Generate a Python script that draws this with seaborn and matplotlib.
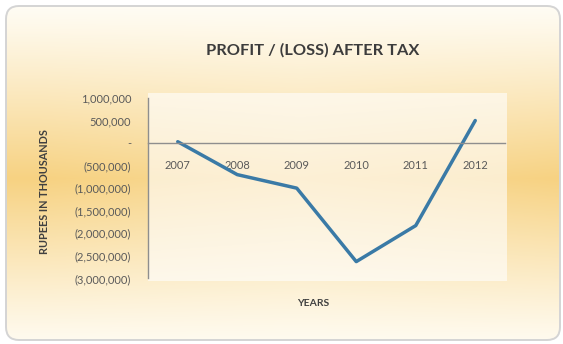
import numpy as np
import pandas as pd
import matplotlib
matplotlib.use("Agg")
import matplotlib.pyplot as plt
from matplotlib.patches import FancyBboxPatch, Rectangle
from matplotlib.ticker import FuncFormatter
import seaborn as sns

# Profit / (loss) after tax, rupees in thousands
years = ["2007", "2008", "2009", "2010", "2011", "2012"]
profit_after_tax = [30000, -700000, -1000000, -2630000, -1830000, 500000]
y_ticks = [-3000000, -2500000, -2000000, -1500000, -1000000, -500000, 0, 500000, 1000000]

title = "PROFIT / (LOSS) AFTER TAX"
y_label = "RUPEES IN THOUSANDS"
x_label = "YEARS"

df = pd.DataFrame({"year": years, "profit": profit_after_tax})

sns.set_style("white")
plt.rcParams["font.family"] = ["Lato", "DejaVu Sans"]

W, H = 563, 344
fig = plt.figure(figsize=(W / 100, H / 100), dpi=100)
fig.patch.set_facecolor("white")

# --- chart-area background: warm vertical gradient inside a rounded frame ---
bg = fig.add_axes([0, 0, 1, 1], zorder=-5)
bg.set_xlim(0, W)
bg.set_ylim(H, 0)
bg.axis("off")

yy, xx = np.mgrid[0:H, 0:W]
t = np.clip(1 - np.abs(yy - 178) / 170.0, 0, 1) ** 1.1
edge = 0.82 + 0.18 * np.clip(np.abs(xx - 300) / 260.0, 0, 1)
t = t * edge
light = np.array([255, 252, 243]) / 255.0
warm = np.array([247, 210, 130]) / 255.0
grad = light[None, None, :] * (1 - t[..., None]) + warm[None, None, :] * t[..., None]
img = bg.imshow(grad, extent=(0, W, H, 0), aspect="auto", zorder=0)

frame = FancyBboxPatch((6, 6), 554, 334, boxstyle="round,pad=0,rounding_size=13",
                       facecolor="none", edgecolor="#d4d4d4", linewidth=1.4, zorder=3)
bg.add_patch(frame)
img.set_clip_path(frame)

# lighter plot-area panel
bg.add_patch(Rectangle((148, 93), 359, 188, facecolor="white", alpha=0.6,
                       edgecolor="none", zorder=1))

# --- main plot ---
ax = fig.add_axes([148 / W, (H - 278.3) / H, 357 / W, 180.3 / H])
ax.set_facecolor("none")

sns.lineplot(data=df, x="year", y="profit", ax=ax, sort=False,
             color="#3a7aa6", linewidth=2.5, solid_joinstyle="round")

ax.set_xlim(-0.5, len(years) - 0.5)
ax.set_ylim(y_ticks[0], y_ticks[-1])
ax.set_yticks(y_ticks)


def fmt(v, _pos):
    if v < 0:
        return f"({abs(v):,.0f})"
    if v == 0:
        return "-"
    return f"{v:,.0f}"


ax.yaxis.set_major_formatter(FuncFormatter(fmt))

axis_gray = "#8e8e8e"
text_gray = "#5a5a5a"
for s in ("top", "right"):
    ax.spines[s].set_visible(False)
ax.spines["left"].set_color(axis_gray)
ax.spines["left"].set_linewidth(1.0)
ax.spines["bottom"].set_position(("data", 0))
ax.spines["bottom"].set_color(axis_gray)
ax.spines["bottom"].set_linewidth(1.0)

ax.set_xticks(np.arange(-0.5, len(years), 1.0), minor=True)
ax.tick_params(axis="x", which="major", length=0, pad=12, labelsize=8,
               labelcolor=text_gray)
ax.tick_params(axis="x", which="minor", length=3, width=0.8, direction="out",
               color=axis_gray)
ax.tick_params(axis="y", which="major", length=4, width=0.8, direction="out",
               color=axis_gray, labelsize=8, labelcolor=text_gray, pad=8)
ax.set_xlabel("")
ax.set_ylabel("")
ax.grid(False)

# --- titles ---
fig.text(313 / W, 1 - 50 / H, title, ha="center", va="center",
         fontsize=11.8, fontweight="bold", color="#3c3c3c")
fig.text(44 / W, 1 - 191.5 / H, y_label, ha="center", va="center", rotation=90,
         fontsize=7.8, fontweight="bold", color="#404040")
fig.text(313 / W, 1 - 304 / H, x_label, ha="center", va="center",
         fontsize=7.5, fontweight="bold", color="#404040")

fig.savefig("out.png", dpi=100, facecolor="white")
